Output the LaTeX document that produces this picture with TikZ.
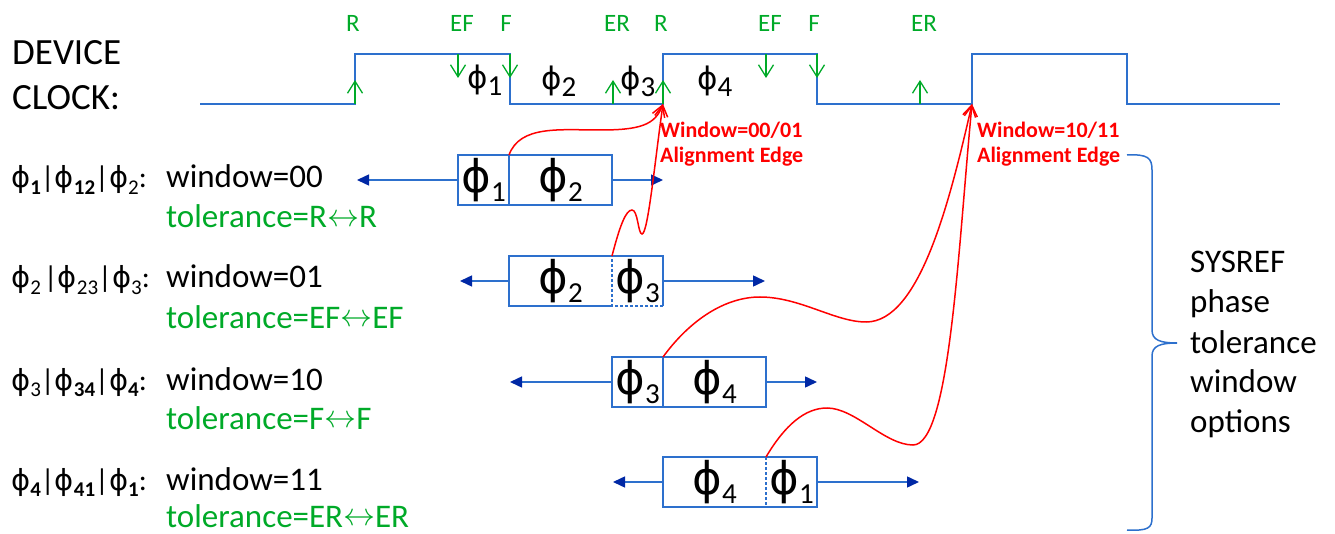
\documentclass[tikz,border=0pt]{standalone}
\usepackage{graphicx}
\usepackage{fontspec}
\setmainfont{Carlito}
\newfontfamily\phifont{DejaVu Sans}
\usetikzlibrary{arrows.meta}
\definecolor{cblue}{RGB}{45,112,205}
\definecolor{tipblue}{RGB}{0,40,165}
\definecolor{cgreen}{RGB}{0,170,40}
\definecolor{cred}{RGB}{255,0,0}
\newcommand\PH[4]{{\fontsize{#1}{#1}\phifont ϕ}\raisebox{-#4}{\fontsize{#2}{#2}\selectfont #3}}
\newcommand\LRA{\raisebox{1.5pt}{\scalebox{3.2}{\normalsize$\leftrightarrow$}}}
\tikzset{
  boxline/.style={draw=cblue, line width=1.5pt},
  sec/.style={minimum height=50pt, inner sep=0pt, outer sep=0pt},
  barrow/.style={cblue, line width=1.5pt, -{Triangle[length=12pt,width=11pt,color=tipblue]}},
  garrow/.style={cgreen, line width=1.3pt, -{Straight Barb[length=12pt,width=15pt]}},
  rarrow/.style={cred, line width=1.5pt, -{Straight Barb[length=11pt,width=13pt]}},
  clk/.style={cblue, line width=1.5pt},
  txt/.style={font=\fontsize{33}{39.6}\selectfont, inner sep=0pt, anchor=base west},
  gtxt/.style={txt, text=cgreen},
  glab/.style={font=\fontsize{25}{25}\selectfont, text=cgreen, inner sep=0pt, anchor=base},
  rlab/.style={font=\bfseries\fontsize{22}{25}\selectfont, text=cred, inner sep=0pt, anchor=base west},
  plab/.style={inner sep=0pt, anchor=base west},
  llab/.style={plab, font=\fontsize{30}{30}\selectfont},
}
\begin{document}
\begin{tikzpicture}[x=1pt,y=-1pt]
\useasboundingbox (0,0) rectangle (1335,534);

% device clock label
\node[plab, font=\fontsize{37}{46}\selectfont] (dev) at (12,65) {DEVICE};
\node[plab, font=\fontsize{37}{46}\selectfont] (clkl) at (12,110) {CLOCK:};

% clock waveform
\draw[clk] (200,104) -- (355,104) -- (355,54) -- (510,54) -- (510,104) -- (663,104) -- (663,54) -- (817,54) -- (817,104) -- (972,104) -- (972,54) -- (1127,54) -- (1127,104) -- (1280,104);
\coordinate (e1) at (663,104);
\coordinate (e2) at (972,104);

% green edge labels
\node[glab] (gR1) at (353,32) {R};
\node[glab] (gEF1) at (462,32) {EF};
\node[glab] (gF1) at (506,32) {F};
\node[glab] (gER1) at (617,32) {ER};
\node[glab] (gR2) at (661,32) {R};
\node[glab] (gEF2) at (770,32) {EF};
\node[glab] (gF2) at (814,32) {F};
\node[glab] (gER2) at (924,32) {ER};

% green arrows
\coordinate (u1a) at (355,104); \coordinate (u1b) at (355,80);
\coordinate (u2a) at (613,104); \coordinate (u2b) at (613,80);
\coordinate (u3a) at (663,104); \coordinate (u3b) at (663,80);
\coordinate (u4a) at (920,104); \coordinate (u4b) at (920,80);
\coordinate (d1a) at (458,54); \coordinate (d1b) at (458,78);
\coordinate (d2a) at (510,54); \coordinate (d2b) at (510,78);
\coordinate (d3a) at (766,54); \coordinate (d3b) at (766,78);
\coordinate (d4a) at (817,54); \coordinate (d4b) at (817,78);
\foreach \n in {u1,u2,u3,u4,d1,d2,d3,d4} \draw[garrow] (\n a) -- (\n b);

% phase labels on clock
\node[plab] (t1) at (467,89) {\PH{31}{29}{1}{6.5pt}};
\node[plab] (t2) at (541,90) {\PH{31}{29}{2}{6.5pt}};
\node[plab] (t3) at (620,90) {\PH{31}{29}{3}{6.5pt}};
\node[plab] (t4) at (697,90) {\PH{31}{29}{4}{6.5pt}};

% alignment edge labels
\node[rlab] (w1a) at (660,138) {Window=00/01};
\node[rlab] (w1b) at (660,163) {Alignment Edge};
\node[rlab] (w2a) at (977,138) {Window=10/11};
\node[rlab] (w2b) at (977,163) {Alignment Edge};

% left labels
\node[llab] (p1) at (11,188) {\PH{29}{21}{\textbf{1}}{6.5pt}|\PH{29}{21}{\textbf{12}}{6.5pt}|\PH{29}{21}{2}{6.5pt}:};
\node[llab] (p2) at (11,288) {\PH{29}{21}{2}{6.5pt}\kern3pt|\PH{29}{21}{23}{6.5pt}|\PH{29}{21}{3}{6.5pt}:};
\node[llab] (p3) at (11,390) {\PH{29}{21}{3}{6.5pt}|\PH{29}{21}{\textbf{34}}{6.5pt}|\PH{29}{21}{\textbf{4}}{6.5pt}:};
\node[llab] (p4) at (11,490) {\PH{29}{21}{\textbf{4}}{6.5pt}|\PH{29}{21}{\textbf{41}}{6.5pt}|\PH{29}{21}{\textbf{1}}{6.5pt}:};

\node[txt] (win1) at (166,188) {window=00};
\node[gtxt] (tol1) at (166,228) {tolerance=R\LRA R};
\node[txt] (win2) at (166,288) {window=01};
\node[gtxt] (tol2) at (166,328) {tolerance=EF\LRA EF};
\node[txt] (win3) at (166,390) {window=10};
\node[gtxt] (tol3) at (166,429) {tolerance=F\LRA F};
\node[txt] (win4) at (166,490) {window=11};
\node[gtxt] (tol4) at (166,527) {tolerance=ER\LRA ER};

% boxes
\node[sec, minimum width=51pt] (b1a) at (483.5,180) {\PH{45}{29}{1}{9.5pt}};
\node[sec, minimum width=103pt] (b1b) at (560.5,180) {\PH{45}{29}{2}{9.5pt}};
\node[sec, minimum width=103pt] (b2a) at (560.5,281) {\PH{45}{29}{2}{9.5pt}};
\node[sec, minimum width=51pt] (b2b) at (637.5,281) {\PH{45}{29}{3}{9.5pt}};
\node[sec, minimum width=51pt] (b3a) at (637.5,382) {\PH{45}{29}{3}{9.5pt}};
\node[sec, minimum width=103pt] (b3b) at (714.5,382) {\PH{45}{29}{4}{9.5pt}};
\node[sec, minimum width=103pt] (b4a) at (714.5,482) {\PH{45}{29}{4}{9.5pt}};
\node[sec, minimum width=51pt] (b4b) at (791.5,482) {\PH{45}{29}{1}{9.5pt}};

\draw[boxline] (b1a.north west) rectangle (b1b.south east);
\draw[boxline] (b1a.north east) -- (b1a.south east);
\draw[boxline] (b2b.south west) -- (b2a.south west) -- (b2a.north west) -- (b2b.north east) -- (b2b.south east);
\draw[boxline, dash pattern=on 3pt off 2pt] (b2b.south east) -- (b2b.south west) -- (b2b.north west);
\draw[boxline] (b3a.north west) rectangle (b3b.south east);
\draw[boxline] (b3a.north east) -- (b3a.south east);
\draw[boxline] (b4a.north west) rectangle (b4b.south east);
\draw[boxline, dash pattern=on 3pt off 2pt] (b4a.north east) -- (b4a.south east);

% horizontal arrows
\coordinate (l1) at (357,180); \coordinate (r1) at (663,180);
\coordinate (l2) at (460,281); \coordinate (r2) at (765,281);
\coordinate (l3) at (510,382); \coordinate (r3) at (817,382);
\coordinate (l4) at (613,482); \coordinate (r4) at (919,482);
\draw[barrow] (b1a.west) -- (l1);
\draw[barrow] (b1b.east) -- (r1);
\draw[barrow] (b2a.west) -- (l2);
\draw[barrow] (b2b.east) -- (r2);
\draw[barrow] (b3a.west) -- (l3);
\draw[barrow] (b3b.east) -- (r3);
\draw[barrow] (b4a.west) -- (l4);
\draw[barrow] (b4b.east) -- (r4);

% red curves
\draw[rarrow] (b1a.north east) .. controls (520,125) and (560,130) .. (600,130) .. controls (640,130) and (655,125) .. (e1);
\draw[rarrow] (b2b.north west) .. controls (620,225) and (626,210) .. (632,210) .. controls (638,210) and (638,234) .. (642,234) .. controls (648,234) and (655,160) .. (e1);
\draw[rarrow] (b3b.north west) .. controls (690,320) and (725,297) .. (760,297) .. controls (800,297) and (835,322) .. (866,322) .. controls (920,322) and (950,200) .. (e2);
\draw[rarrow] (b4b.north west) .. controls (785,425) and (805,408) .. (827,408) .. controls (855,408) and (885,445) .. (913,445) .. controls (950,445) and (958,250) .. (e2);

% brace
\draw[cblue, line width=1.5pt] (1127,155) .. controls (1148,154) and (1152,158) .. (1152,170) -- (1152,330) .. controls (1152,340) and (1160,343) .. (1177,343) .. controls (1160,343) and (1152,346) .. (1152,356) -- (1152,518) .. controls (1152,528) and (1148,531) .. (1127,530);

% brace text
\node[txt] (s1) at (1190,273) {SYSREF};
\node[txt] (s2) at (1190,313) {phase};
\node[txt] (s3) at (1190,353) {tolerance};
\node[txt] (s4) at (1190,392) {window};
\node[txt] (s5) at (1190,432) {options};
\end{tikzpicture}
\end{document}
